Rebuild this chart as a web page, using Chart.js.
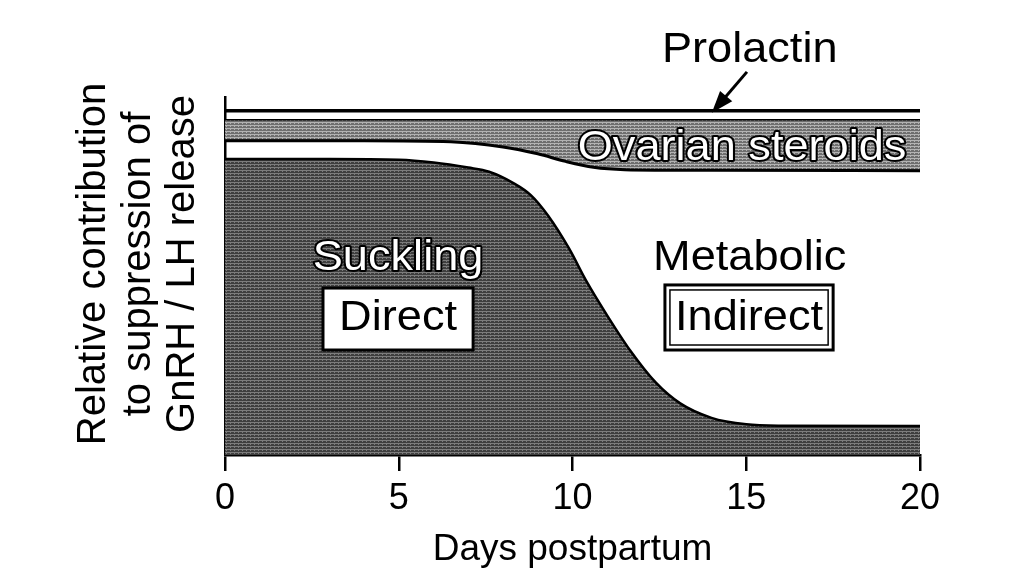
<!DOCTYPE html>
<html>
<head>
<meta charset="utf-8">
<script src="https://cdn.jsdelivr.net/npm/chart.js@4.4.1/dist/chart.umd.min.js"></script>
<style>
  html, body { margin: 0; padding: 0; background: #fff; }
  #c { display: block; }
</style>
</head>
<body>
<canvas id="c" width="1024" height="583"></canvas>
<script>
// values (y = relative share, 0..100 at the top line)
const sucklingDays  = [0, 3, 5, 6, 7, 7.6, 8.3, 8.8, 9.3, 9.9, 10.4, 11.0, 11.65, 12.4, 13.1, 14, 15, 16, 20];
const sucklingShare = [86, 86, 85.8, 85.0, 83.5, 82.3, 79.0, 75.5, 69.5, 60.0, 50.5, 40.5, 30.5, 21.0, 15.0, 10.8, 8.9, 8.5, 8.4];
const steroidDays = [0, 4, 6.5, 8, 9, 9.8, 10.6, 11.5, 14, 20];
const steroidLow  = [91.3, 91.3, 91.0, 89.5, 87.5, 85.3, 83.6, 82.9, 82.7, 82.6];
const steroidHigh = [97.2, 97.2, 97.2, 97.2, 97.2, 97.2, 97.2, 97.2, 97.2, 97.2];
const prolactinDays = [0, 20];
const prolactinTop  = [100, 100];
const xTicks = [0, 5, 10, 15, 20];

const FONT = '"Liberation Sans", Arial, Helvetica, sans-serif';

// annotation text, placed in chart units
const notes = [
  { text: 'Prolactin', day: 15.1, level: 114.2, color: '#000' },
  { text: 'Ovarian steroids', day: 14.88, level: 85.8, color: '#fff', outline: true },
  { text: 'Suckling', day: 4.98, level: 53.8, color: '#fff', outline: true },
  { text: 'Metabolic', day: 15.1, level: 53.8, color: '#000' }
];
const boxes = [
  { text: 'Direct', x0: 2.82, x1: 7.14, y0: 48.5, y1: 30.5, base: 36.3, double: false },
  { text: 'Indirect', x0: 12.66, x1: 17.5, y0: 49.4, y1: 30.5, base: 36.3, double: true }
];
const arrow = { from: [15.02, 111.3], to: [14.01, 99.4] };

function pairs(xs, ys) {
    return xs.map((x, i) => ({ x: x, y: ys[i] }));
}

// halftone-ish fills
function halftone(ctx, dark, light) {
    const c = document.createElement('canvas');
    c.width = 4; c.height = 3;
    const g = c.getContext('2d');
    g.fillStyle = dark;
    g.fillRect(0, 0, 4, 3);
    g.fillStyle = light;
    g.fillRect(0, 2, 4, 1);
    g.fillRect(2, 0, 1, 1);
    return ctx.createPattern(c, 'repeat');
}

function drawText(ctx, text, x, y, size, fill, outline) {
    ctx.save();
    ctx.translate(x, y);
    ctx.scale(1.05, 1);
    ctx.font = size + 'px ' + FONT;
    ctx.textAlign = 'center';
    ctx.textBaseline = 'alphabetic';
    if (outline) {
        ctx.lineWidth = 4;
        ctx.lineJoin = 'round';
        ctx.strokeStyle = '#000';
        ctx.strokeText(text, 0, 0);
    }
    ctx.fillStyle = fill;
    ctx.fillText(text, 0, 0);
    ctx.restore();
}

const labelPlugin = {
    id: 'labels',
    afterDraw(chart) {
        const ctx = chart.ctx;
        const xs = chart.scales.x, ys = chart.scales.y;

        notes.forEach(n => {
            drawText(ctx, n.text, xs.getPixelForValue(n.day), ys.getPixelForValue(n.level), 43, n.color, n.outline);
        });

        boxes.forEach(b => {
            const l = xs.getPixelForValue(b.x0), r = xs.getPixelForValue(b.x1);
            const t = ys.getPixelForValue(b.y0), btm = ys.getPixelForValue(b.y1);
            ctx.save();
            ctx.fillStyle = '#fff';
            ctx.fillRect(l, t, r - l, btm - t);
            ctx.strokeStyle = '#000';
            ctx.lineWidth = 3;
            ctx.strokeRect(l, t, r - l, btm - t);
            if (b.double) {
                ctx.lineWidth = 1.5;
                ctx.strokeRect(l + 5, t + 5, r - l - 10, btm - t - 10);
            }
            ctx.restore();
            drawText(ctx, b.text, (l + r) / 2, ys.getPixelForValue(b.base), 43, '#000', false);
        });

        // arrow to the prolactin band
        const ax = xs.getPixelForValue(arrow.from[0]), ay = ys.getPixelForValue(arrow.from[1]);
        const bx = xs.getPixelForValue(arrow.to[0]), by = ys.getPixelForValue(arrow.to[1]);
        const ang = Math.atan2(by - ay, bx - ax);
        ctx.save();
        ctx.strokeStyle = '#000';
        ctx.fillStyle = '#000';
        ctx.lineWidth = 3;
        ctx.beginPath();
        ctx.moveTo(ax, ay);
        ctx.lineTo(bx - 14 * Math.cos(ang), by - 14 * Math.sin(ang));
        ctx.stroke();
        ctx.beginPath();
        ctx.moveTo(bx, by);
        ctx.lineTo(bx - 22 * Math.cos(ang) + 8 * Math.sin(ang), by - 22 * Math.sin(ang) - 8 * Math.cos(ang));
        ctx.lineTo(bx - 22 * Math.cos(ang) - 8 * Math.sin(ang), by - 22 * Math.sin(ang) + 8 * Math.cos(ang));
        ctx.closePath();
        ctx.fill();
        ctx.restore();

        // y axis title, three rotated lines
        const yTitle = ['Relative contribution', 'to suppression of', 'GnRH / LH release'];
        const baseX = [105, 150, 194];
        ctx.save();
        ctx.font = '40px ' + FONT;
        ctx.fillStyle = '#000';
        ctx.textAlign = 'center';
        ctx.textBaseline = 'alphabetic';
        yTitle.forEach((line, i) => {
            ctx.save();
            ctx.translate(baseX[i], 264);
            ctx.rotate(-Math.PI / 2);
            ctx.fillText(line, 0, 0);
            ctx.restore();
        });
        ctx.restore();
    }
};

const canvas = document.getElementById('c');
const ctx = canvas.getContext('2d');
const darkFill = halftone(ctx, '#3e3e3e', '#7c7c7c');
const lightFill = halftone(ctx, '#6e6e6e', '#b2b2b2');

const chart = new Chart(ctx, {
    type: 'line',
    data: {
        datasets: [
            {
                label: 'Suckling',
                data: pairs(sucklingDays, sucklingShare),
                borderColor: '#000',
                borderWidth: 2.5,
                backgroundColor: darkFill,
                fill: 'origin',
                cubicInterpolationMode: 'monotone',
                pointRadius: 0
            },
            {
                label: 'Ovarian steroids (lower)',
                data: pairs(steroidDays, steroidLow),
                borderColor: '#000',
                borderWidth: 3,
                backgroundColor: lightFill,
                fill: '+1',
                cubicInterpolationMode: 'monotone',
                pointRadius: 0
            },
            {
                label: 'Ovarian steroids (upper)',
                data: pairs(steroidDays, steroidHigh),
                borderColor: '#000',
                borderWidth: 3,
                fill: false,
                pointRadius: 0
            },
            {
                label: 'Prolactin',
                data: pairs(prolactinDays, prolactinTop),
                borderColor: '#000',
                borderWidth: 3.5,
                fill: false,
                pointRadius: 0
            }
        ]
    },
    options: {
        responsive: false,
        animation: false,
        layout: { padding: { left: 0, top: 97, right: 104, bottom: 0 } },
        plugins: {
            legend: { display: false },
            tooltip: { enabled: false }
        },
        scales: {
            x: {
                type: 'linear',
                min: 0,
                max: 20,
                afterFit: s => { s.height = 128; },
                afterBuildTicks: s => { s.ticks = xTicks.map(v => ({ value: v })); },
                ticks: {
                    color: '#000',
                    padding: 6,
                    font: { size: 36, family: FONT }
                },
                grid: {
                    drawOnChartArea: false,
                    drawTicks: true,
                    tickLength: 16,
                    color: '#000',
                    lineWidth: 2.5
                },
                border: { display: true, color: '#000', width: 2.5 },
                title: {
                    display: true,
                    text: 'Days postpartum',
                    color: '#000',
                    font: { size: 37, family: FONT },
                    padding: { top: 0, bottom: 11 }
                }
            },
            y: {
                type: 'linear',
                min: 0,
                max: 104,
                afterFit: s => { s.width = 225; },
                ticks: { display: false },
                grid: { display: false },
                border: { display: true, color: '#000', width: 2.5 }
            }
        }
    },
    plugins: [labelPlugin]
});
</script>
</body>
</html>
